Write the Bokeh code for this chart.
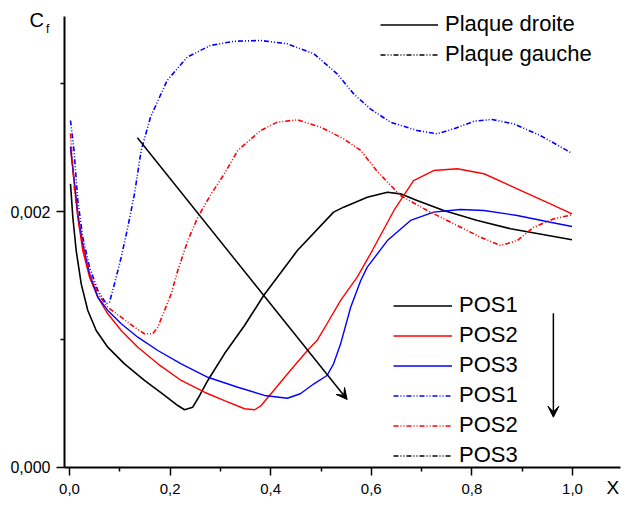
from bokeh.plotting import figure
from bokeh.models import (Range1d, FixedTicker, CustomJSTickFormatter, Legend, LegendItem,
                          Label, Arrow, VeeHead, ColumnDataSource)
from bokeh.embed import file_html
from bokeh.resources import INLINE

# Plaque droite (solid)
x_pd1 = [0.002, 0.0066, 0.0133, 0.0233, 0.0364, 0.0531, 0.0761, 0.1093, 0.149, 0.189, 0.2153,
         0.2286, 0.245, 0.255, 0.275, 0.308, 0.348, 0.386, 0.453, 0.525, 0.545, 0.592, 0.632,
         0.658, 0.691, 0.744, 0.811, 0.877, 0.999]
cf_pd1 = [0.002216, 0.001955, 0.001695, 0.001435, 0.001227, 0.001070, 0.000940, 0.000810, 0.000680,
          0.000563, 0.000484, 0.000451, 0.000471, 0.000537, 0.000680, 0.000888, 0.001109, 0.001344,
          0.001695, 0.001995, 0.002034, 0.002112, 0.002151, 0.002138, 0.002086, 0.002008, 0.001930,
          0.001865, 0.001779]

x_pd2 = [0.002, 0.0099, 0.0165, 0.0264, 0.0398, 0.0563, 0.0761, 0.1028, 0.1358, 0.1756, 0.2221,
         0.2684, 0.308, 0.348, 0.368, 0.381, 0.406, 0.439, 0.473, 0.492, 0.512, 0.539, 0.572,
         0.602, 0.645, 0.684, 0.724, 0.771, 0.824, 0.890, 0.956, 0.999]
cf_pd2 = [0.002492, 0.002216, 0.001955, 0.001695, 0.001487, 0.001330, 0.001201, 0.001070, 0.000940,
          0.000810, 0.000680, 0.000588, 0.000523, 0.000459, 0.000451, 0.000484, 0.000602, 0.000758,
          0.000914, 0.000992, 0.001123, 0.001305, 0.001487, 0.001695, 0.002008, 0.002242, 0.002320,
          0.002334, 0.002295, 0.002177, 0.002060, 0.001982]

x_pd3 = [0.002, 0.0165, 0.0264, 0.0398, 0.0563, 0.0761, 0.1028, 0.1358, 0.1756, 0.2221, 0.275,
         0.3346, 0.3877, 0.433, 0.459, 0.486, 0.512, 0.525, 0.539, 0.559, 0.579, 0.592, 0.632,
         0.678, 0.724, 0.777, 0.824, 0.890, 0.956, 0.999]
cf_pd3 = [0.002508, 0.001982, 0.001748, 0.001513, 0.001330, 0.001227, 0.001123, 0.001018, 0.000914,
          0.000810, 0.000705, 0.000627, 0.000563, 0.000541, 0.000576, 0.000654, 0.000719, 0.000810,
          0.000966, 0.001252, 0.001461, 0.001565, 0.001773, 0.001930, 0.001995, 0.002016, 0.002008,
          0.001969, 0.001916, 0.001883]

# Plaque gauche (dash-dot)
x_pg1 = [0.002, 0.009, 0.0165, 0.0264, 0.0398, 0.0563, 0.073, 0.0795, 0.0895, 0.1028, 0.1159,
         0.1292, 0.1425, 0.161, 0.194, 0.234, 0.280, 0.327, 0.380, 0.433, 0.486, 0.532, 0.565,
         0.598, 0.638, 0.691, 0.731, 0.764, 0.804, 0.840, 0.883, 0.936, 0.999]
cf_pg1 = [0.002711, 0.002477, 0.002086, 0.001799, 0.001565, 0.001383, 0.001279, 0.001291, 0.001435,
          0.001643, 0.001877, 0.002138, 0.002477, 0.002737, 0.003023, 0.003206, 0.003297, 0.003330,
          0.003336, 0.003310, 0.003232, 0.003076, 0.002919, 0.002802, 0.002698, 0.002633, 0.002607,
          0.002646, 0.002705, 0.002719, 0.002685, 0.002594, 0.002455]

x_pg2 = [0.002, 0.0099, 0.0199, 0.0298, 0.0431, 0.0563, 0.0761, 0.1028, 0.1292, 0.149, 0.1656,
         0.1756, 0.1889, 0.2022, 0.2153, 0.2352, 0.255, 0.2817, 0.308, 0.3346, 0.380, 0.413, 0.453,
         0.499, 0.545, 0.579, 0.612, 0.658, 0.711, 0.764, 0.817, 0.857, 0.890, 0.923, 0.963, 0.999]
cf_pg2 = [0.002609, 0.002164, 0.001877, 0.001670, 0.001487, 0.001357, 0.001252, 0.001174, 0.001096,
          0.001045, 0.001045, 0.001096, 0.001227, 0.001357, 0.001539, 0.001773, 0.001955, 0.002138,
          0.002295, 0.002477, 0.002633, 0.002698, 0.002716, 0.002659, 0.002568, 0.002477, 0.002312,
          0.002125, 0.002008, 0.001904, 0.001799, 0.001734, 0.001773, 0.001877, 0.001943, 0.001974]

# Arrows
arrow_x0 = [0.135, 0.962]
arrow_y0 = [0.002576, 0.001205]
arrow_x1 = [0.552, 0.962]
arrow_y1 = [0.000531, 0.000393]

x_major = [0.0, 0.2, 0.4, 0.6, 0.8, 1.0]
x_minor = [0.1, 0.3, 0.5, 0.7, 0.9]
y_major = [0.0, 0.002]
y_minor = [0.001, 0.003]

X_AXIS_BOUNDS = (-0.00994, 1.0954)
Y_AXIS_BOUNDS = (0.0, 0.0035234)

FONT = "Liberation Sans"
DASHDOT = "5 2 1 2 1 2"
NAN = float("nan")

p = figure(width=625, height=506, output_backend="svg", toolbar_location=None,
           x_range=Range1d(-0.13718, 1.10537), y_range=Range1d(-0.00030469, 0.00364844),
           min_border_left=0, min_border_right=0, min_border_top=0, min_border_bottom=0)
p.outline_line_color = None
p.xgrid.visible = False
p.ygrid.visible = False
p.background_fill_color = "white"

p.xaxis.fixed_location = 0.0
p.yaxis.fixed_location = X_AXIS_BOUNDS[0]
p.xaxis.bounds = X_AXIS_BOUNDS
p.yaxis.bounds = Y_AXIS_BOUNDS
p.xaxis.ticker = FixedTicker(ticks=x_major, minor_ticks=x_minor)
p.yaxis.ticker = FixedTicker(ticks=y_major, minor_ticks=y_minor)
p.xaxis.formatter = CustomJSTickFormatter(code="return tick.toFixed(1).replace('.', ',');")
p.yaxis.formatter = CustomJSTickFormatter(code="return tick.toFixed(3).replace('.', ',');")
for ax in (p.xaxis, p.yaxis):
    ax.axis_line_width = 2
    ax.axis_line_color = "black"
    ax.major_tick_line_width = 1.5
    ax.minor_tick_line_width = 1.5
    ax.major_tick_out = 8
    ax.major_tick_in = 0
    ax.minor_tick_out = 4
    ax.minor_tick_in = 0
    ax.major_label_text_font = FONT
    ax.major_label_text_color = "black"
p.xaxis.major_label_text_font_size = "15px"
p.yaxis.major_label_text_font_size = "16px"
p.xaxis.major_label_standoff = 9
p.yaxis.major_label_standoff = 6

r_pd1 = p.line(x_pd1, cf_pd1, line_color="black", line_width=1.6)
r_pd2 = p.line(x_pd2, cf_pd2, line_color="red", line_width=1.4)
r_pd3 = p.line(x_pd3, cf_pd3, line_color="blue", line_width=1.4)
r_pg1 = p.line(x_pg1, cf_pg1, line_color="blue", line_width=1.6, line_dash=DASHDOT)
r_pg2 = p.line(x_pg2, cf_pg2, line_color="red", line_width=1.6, line_dash=DASHDOT)
r_pg3 = p.line([NAN], [NAN], line_color="black", line_width=1.4, line_dash=DASHDOT)
r_solid = p.line([NAN], [NAN], line_color="black", line_width=1.6)

arrow_src = ColumnDataSource(dict(x0=arrow_x0, y0=arrow_y0, x1=arrow_x1, y1=arrow_y1))
p.add_layout(Arrow(end=VeeHead(size=11, fill_color="black", line_color="black"),
                   x_start="x0", y_start="y0", x_end="x1", y_end="y1",
                   line_color="black", line_width=1.5, source=arrow_src))

leg_top = Legend(items=[LegendItem(label="Plaque droite", renderers=[r_solid]),
                        LegendItem(label="Plaque gauche", renderers=[r_pg3])],
                 location=(380, 439))
leg_bot = Legend(items=[LegendItem(label="POS1", renderers=[r_pd1]),
                        LegendItem(label="POS2", renderers=[r_pd2]),
                        LegendItem(label="POS3", renderers=[r_pd3]),
                        LegendItem(label="POS1", renderers=[r_pg1]),
                        LegendItem(label="POS2", renderers=[r_pg2]),
                        LegendItem(label="POS3", renderers=[r_pg3])],
                 location=(393, 38))
for lg, gw in ((leg_top, 58), (leg_bot, 59)):
    lg.label_text_font = FONT
    lg.label_text_font_size = "22px"
    lg.label_text_color = "black"
    lg.glyph_width = gw
    lg.glyph_height = 25
    lg.label_height = 25
    lg.spacing = 4
    lg.padding = 0
    lg.margin = 0
    lg.label_standoff = 7
    lg.border_line_alpha = 0
    lg.background_fill_alpha = 0
    p.add_layout(lg)

p.add_layout(Label(x=-0.0795, y=0.0035, text="C", text_font=FONT, text_font_size="20px",
                   text_color="black", text_baseline="middle"))
p.add_layout(Label(x=-0.0467, y=0.003422, text="f", text_font=FONT, text_font_size="12px",
                   text_color="black", text_baseline="middle"))
p.add_layout(Label(x=1.0676, y=-0.000156, text="X", text_font=FONT, text_font_size="19px",
                   text_color="black", text_baseline="middle"))

open("out.html", "w").write(file_html(p, INLINE))
